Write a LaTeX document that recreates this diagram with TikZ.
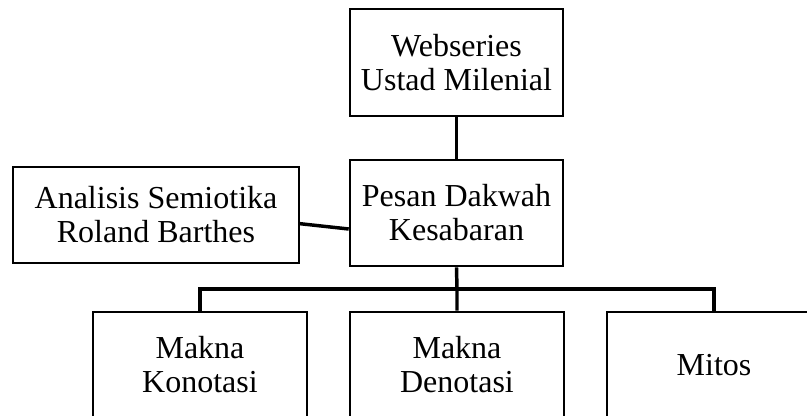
\documentclass[tikz,border=0pt]{standalone}
\usepackage{fontspec}
\setmainfont{Liberation Serif}
\usepackage{tikz}

\begin{document}
\begin{tikzpicture}
		[x=0.75pt,y=-0.75pt,
		box1/.style={rectangle,draw=black,line width=1.7pt,align=center,
inner sep=0pt,minimum width=160pt,minimum height=80pt,
font=\fontsize{24}{25.5}\selectfont},
		box2/.style={box1,minimum width=214pt,minimum height=72pt},
		edgestyle/.style={-,line width=2.6pt}]
		\clip (0,0) rectangle (807,416);
		\node at (456.5, 62.5) (web) [box1] {Webseries\\Ustad Milenial};
		\node at (456.5, 213.0) (pesan) [box1] {Pesan Dakwah\\Kesabaran}
			edge [edgestyle] (web);
		\node at (156.0, 215.0) (analisis) [box2] {Analisis Semiotika\\Roland Barthes};
		\node at (200.0, 365.0) (konotasi) [box1] {Makna\\Konotasi};
		\node at (457.0, 365.0) (denotasi) [box1] {Makna\\Denotasi};
		\node at (714.0, 365.0) (mitos) [box1] {Mitos};
		\coordinate (bus) at (457.0, 289.0);
		\draw [edgestyle] ([yshift=-6.5pt]analisis.east) -- ([yshift=-12pt]pesan.west);
		\draw [edgestyle] (pesan.south) -- (bus) -- (denotasi.north);
		\draw [edgestyle] (konotasi.north) |- (bus) -| (mitos.north);
	\end{tikzpicture}
\end{document}
